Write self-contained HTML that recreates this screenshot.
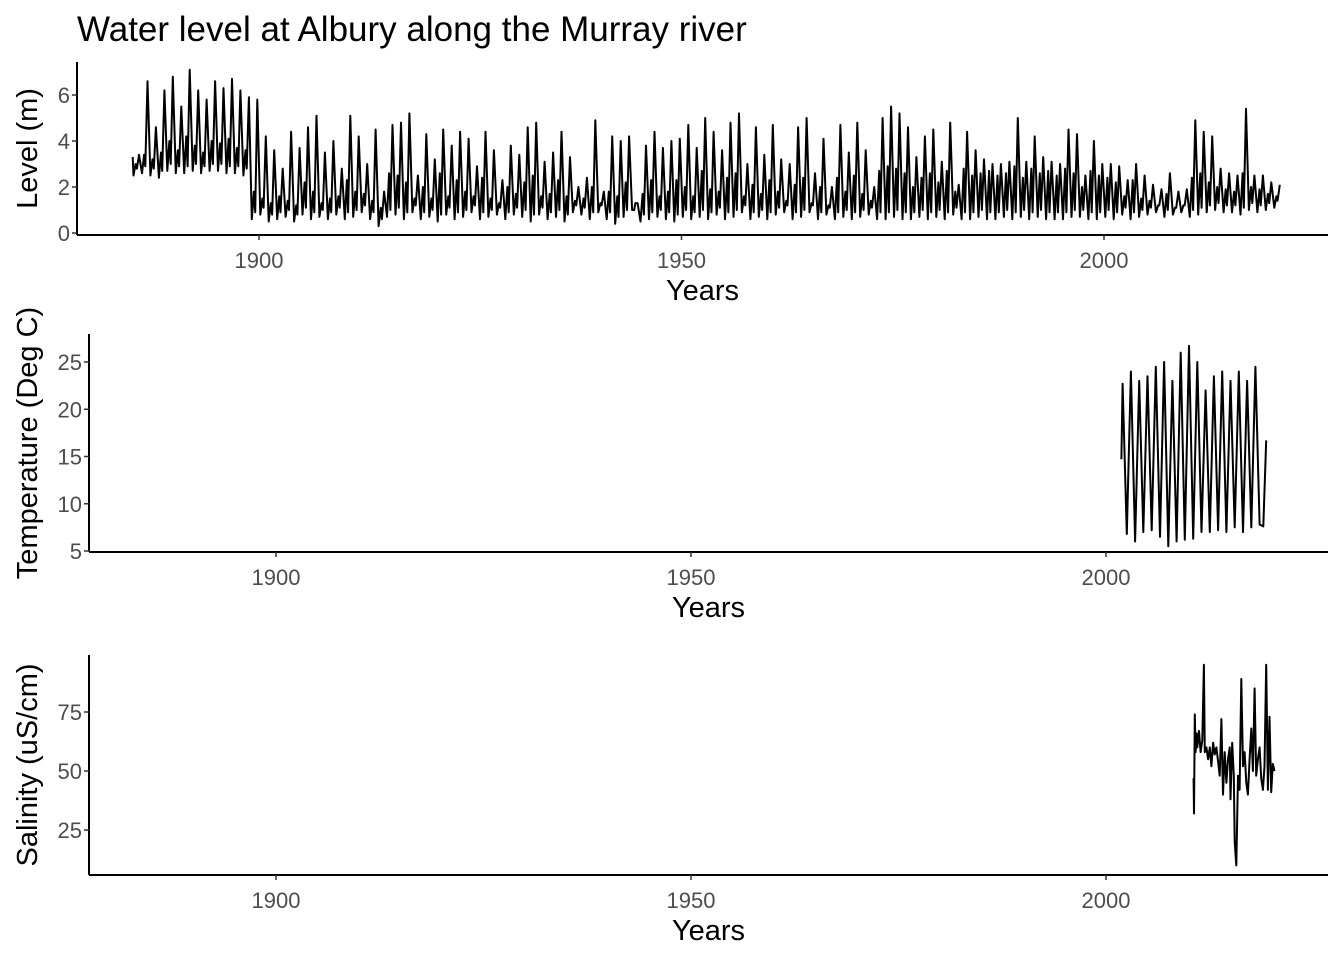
<!DOCTYPE html>
<html><head><meta charset="utf-8">
<style>
html,body{margin:0;padding:0;background:#fff;}
svg{display:block;font-family:"Liberation Sans",Arial,sans-serif;}
.tick{font-size:22px;fill:#4d4d4d;}
.atitle{font-size:29px;fill:#000;}
</style></head>
<body>
<svg id="chart" width="1344" height="960" viewBox="0 0 1344 960">
<text x="77" y="41" font-size="35" fill="#000">Water level at Albury along the Murray river</text>
</svg>
<script>
// ---- data ----
const levelStartYear = 1885;
const levelPeaks = [3.4,6.6,4.6,6.2,6.8,5.5,7.1,6.2,5.8,6.6,6.3,6.7,6.2,5.9,
5.8,4.2,3.6,2.8,4.4,3.7,4.6,5.1,3.5,4.0,
2.8,5.1,4.2,3.0,4.5,1.8,4.7,4.8,5.2,2.5,
4.3,3.2,4.5,3.8,4.4,4.1,2.9,4.4,3.6,2.3,
3.8,3.4,4.6,4.8,3.1,3.5,4.4,3.3,2.0,2.4,
4.9,1.8,4.2,4.0,4.2,1.3,3.8,4.4,3.7,4.0,
4.1,4.7,3.7,5.0,4.4,3.6,4.8,5.2,3.0,4.6,
3.4,4.7,3.2,3.0,4.6,5.0,2.6,4.1,2.0,4.7,
3.5,4.8,3.6,2.0,5.0,5.5,5.2,4.6,3.3,4.2,
4.5,3.1,4.8,2.1,4.4,3.6,3.2,3.0,3.0,3.1,
5.0,3.1,4.2,3.3,3.1,3.0,4.5,4.3,2.5,4.0,
3.0,3.0,2.9,2.3,3.0,2.5,2.1,1.9,2.6,1.8,
1.9,4.9,4.4,4.2,2.8,2.6,2.5,5.4,2.5,2.5,
2.2,2.1];
const levelTroughs = [2.5,2.6,2.5,2.4,2.7,2.6,2.6,2.7,2.6,2.7,2.7,2.6,2.6,2.5,
0.6,0.8,0.5,0.6,0.7,0.5,0.8,0.6,0.7,0.6,
0.8,0.6,0.7,0.9,0.6,0.3,0.7,0.8,0.6,0.9,
0.6,0.7,0.5,0.8,0.6,0.7,0.9,0.6,0.7,0.8,
0.6,0.8,0.7,0.5,0.8,0.6,0.7,0.5,0.9,0.8,
0.6,0.9,0.6,0.4,0.7,1.0,0.5,0.6,0.7,0.6,
0.5,0.7,0.6,0.7,0.6,0.8,0.6,0.7,0.9,0.6,
0.7,0.6,0.8,0.9,0.6,0.7,0.9,0.6,0.8,0.6,
0.7,0.6,0.7,0.8,0.6,0.6,0.7,0.6,0.6,0.7,
0.6,0.7,0.6,0.8,0.6,0.6,0.7,0.6,0.6,0.7,
0.6,0.7,0.6,0.7,0.6,0.6,0.6,0.7,0.7,0.6,
0.6,0.7,0.6,0.8,0.6,0.7,0.8,0.9,0.7,0.8,
0.9,0.7,0.8,0.9,1.0,0.9,0.9,0.8,1.0,0.9,
1.0,1.1];
const levelMids = [3.0,3.4,3.2,3.5,4.0,3.6,4.2,3.8,3.5,4.0,3.9,4.1,3.7,3.6,
1.8,1.5,1.3,1.6,1.4,1.2,2.2,1.8,1.3,1.5,
1.6,2.3,1.8,1.7,1.4,1.1,2.6,2.5,2.2,1.5,
2.0,1.5,2.6,1.6,2.3,1.8,1.6,2.4,1.5,1.3,
2.0,1.7,2.2,2.5,1.6,1.7,2.3,1.6,1.4,1.5,
2.0,1.3,1.8,1.6,2.2,1.0,1.7,2.3,1.6,1.8,
2.3,2.0,1.6,2.7,1.9,1.8,2.4,2.6,1.6,2.1,
1.7,2.3,1.8,1.4,2.1,2.4,1.3,2.0,1.2,2.4,
1.8,2.5,1.7,1.4,2.7,2.9,2.8,2.6,2.0,2.4,
2.6,2.2,2.7,1.8,2.8,2.5,2.6,2.7,2.5,2.6,
2.9,2.4,2.8,2.6,2.7,2.5,2.8,2.6,2.0,2.7,
2.5,2.4,2.2,1.6,2.3,1.5,1.4,1.2,1.7,1.1,
1.2,2.4,2.6,2.2,2.0,1.9,1.8,2.6,2.0,1.9,
1.7,1.6];
const tempStartYear = 2002;
const tempPeaks = [22.7,24.0,23.0,23.5,24.5,25.0,23.0,26.0,26.7,25.0,22.0,23.5,24.0,23.0,24.0,23.0,24.5,16.7];
const tempTroughs = [6.8,6.0,7.0,7.2,6.5,5.5,6.0,6.2,6.3,7.0,7.0,7.2,7.0,7.5,7.0,7.5,7.8,7.6];
const salYears = [2010.55,2010.6,2010.7,2010.8,2010.9,2011.0,2011.2,2011.4,2011.6,2011.8,2011.9,2012.1,2012.3,2012.5,2012.7,2012.9,2013.1,2013.3,2013.5,2013.7,2013.9,2014.1,2014.3,2014.5,2014.7,2014.9,2015.0,2015.2,2015.4,2015.5,2015.7,2015.9,2016.1,2016.3,2016.5,2016.7,2016.9,2017.1,2017.3,2017.5,2017.7,2017.9,2018.1,2018.3,2018.5,2018.7,2018.9,2019.1,2019.3,2019.5,2019.7,2019.9,2020.1,2020.3];
const salValues = [47,32,74,58,66,60,67,58,63,95,58,60,55,60,52,62,57,60,54,48,72,40,58,45,55,60,38,62,48,20,10,48,42,89,52,58,45,40,55,68,50,85,48,55,60,47,42,52,95,42,73,41,53,50];
const xTicks = [1900,1950,2000];
const levelTicks = [0,2,4,6];
const tempTicks = [5,10,15,20,25];
const salTicks = [25,50,75];

// ---- drawing ----
const NS="http://www.w3.org/2000/svg";
const svg=document.getElementById('chart');
function mk(tag,attrs,parent){const e=document.createElementNS(NS,tag);for(const k in attrs)e.setAttribute(k,attrs[k]);(parent||svg).appendChild(e);return e;}

function panel(cfg){
  const g=mk('g',{});
  
  
  const xs=v=>cfg.x1900+(v-1900)*cfg.pxYear;
  const ys=v=>cfg.y0+(v-cfg.v0)*cfg.pxUnit*-1;
  let d='';
  cfg.pts.forEach((p,i)=>{d+=(i?'L':'M')+xs(p[0]).toFixed(1)+' '+ys(p[1]).toFixed(1);});
  const line=mk('path',{d:d,fill:'none',stroke:'#000','stroke-width':2,'stroke-linejoin':'round'},g);
  
  
  const ax=mk('line',{x1:cfg.left,x2:cfg.right,y1:cfg.bottom,y2:cfg.bottom,stroke:'#000','stroke-width':2},g);
  
  
  const ay=mk('line',{x1:cfg.left,x2:cfg.left,y1:cfg.top,y2:cfg.bottom,stroke:'#000','stroke-width':2},g);
  
  
  xTicks.forEach(t=>{
    const x=xs(t);
    mk('line',{x1:x,x2:x,y1:cfg.bottom,y2:cfg.bottom+5,stroke:'#333','stroke-width':1.5},g);
    const tx=mk('text',{x:x,y:cfg.bottom+33,'text-anchor':'middle',class:'tick'},g);
    tx.textContent=t;
    
    
  });
  cfg.yTicks.forEach(t=>{
    const y=ys(t);
    mk('line',{x1:cfg.left-5,x2:cfg.left,y1:y,y2:y,stroke:'#333','stroke-width':1.5},g);
    const tx=mk('text',{x:cfg.left-7,y:y+8,'text-anchor':'end',class:'tick'},g);
    tx.textContent=t;
    
    
  });
  const xt=mk('text',{x:(cfg.left+cfg.right)/2,y:cfg.bottom+65,'text-anchor':'middle',class:'atitle'},g);
  xt.textContent='Years';
  
  
  const cy=(cfg.top+cfg.bottom)/2;
  const yt=mk('text',{x:0,y:0,'text-anchor':'middle',class:'atitle',transform:'translate(37,'+cy+') rotate(-90)'},g);
  yt.textContent=cfg.ytitle;
  
  
}

const lp=[[levelStartYear+0.05,3.3]];
levelPeaks.forEach((p,i)=>{const y=levelStartYear+i;lp.push([y+0.15,levelTroughs[i]]);lp.push([y+0.4,levelMids[i]]);lp.push([y+0.55,levelTroughs[i]+0.3]);lp.push([y+0.8,p]);});
panel({name:'level',pts:lp,x1900:259,pxYear:8.45,y0:233,v0:0,pxUnit:23,left:77,right:1328,top:62,bottom:235,yTicks:levelTicks,ytitle:'Level (m)'});

const tp=[[tempStartYear-0.15,14.7]];
tempPeaks.forEach((p,i)=>{const y=tempStartYear+i;if(i<tempPeaks.length-1){tp.push([y,p]);tp.push([y+0.5,tempTroughs[i]]);}else{tp.push([y-0.05,tempTroughs[i]]);tp.push([y+0.3,p]);}});
panel({name:'temperature',pts:tp,x1900:276,pxYear:8.3,y0:551,v0:5,pxUnit:9.45,left:89,right:1328,top:334,bottom:552,yTicks:tempTicks,ytitle:'Temperature (Deg C)'});

const sp=salYears.map((y,i)=>[y,salValues[i]]);
panel({name:'salinity',pts:sp,x1900:276,pxYear:8.3,y0:771,v0:50,pxUnit:2.36,left:89,right:1328,top:655,bottom:875,yTicks:salTicks,ytitle:'Salinity (uS/cm)'});
</script>
</body></html>
